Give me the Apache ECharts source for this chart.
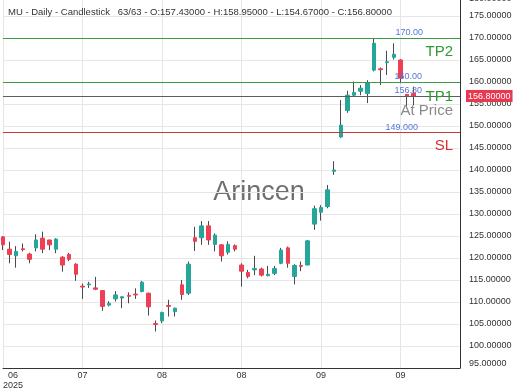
<!DOCTYPE html>
<html><head><meta charset="utf-8">
<script src="https://cdn.jsdelivr.net/npm/echarts@6/dist/echarts.min.js"></script>
<style>html,body{margin:0;padding:0;background:#fff}#c{width:520px;height:390px}</style>
</head><body><div id="c"></div>
<script>
// ---- data ----
const opens  = [124.8,122.0,120.5,122.1,120.9,122.3,124.5,124.1,122.0,120.2,120.8,118.6,113.6,113.9,113.2,112.6,109.3,110.7,110.9,111.5,111.8,112.4,112.0,105.1,105.7,109.2,107.8,113.9,112.0,124.6,124.6,127.3,123.1,123.0,121.3,122.8,118.4,116.7,117.3,117.5,116.0,116.5,118.8,122.3,115.8,118.3,118.4,127.7,130.4,131.7,139.7,147.5,153.5,157.0,157.9,157.4,162.7,163.0,164.4,165.6,165.0,157.2,157.43];
const highs  = [125.0,123.7,122.7,123.3,121.2,125.4,126.0,124.1,124.5,120.4,121.2,118.8,114.2,114.6,115.7,112.7,110.2,112.5,111.2,112.2,113.1,114.8,112.1,105.8,107.8,110.5,108.7,115.0,119.2,127.1,128.4,128.4,125.6,123.1,123.8,123.1,118.8,117.3,120.5,117.8,118.2,118.2,122.3,122.6,118.6,119.2,124.1,131.9,132.0,136.6,142.0,155.9,158.0,160.1,159.3,160.4,169.9,163.3,167.1,168.8,165.2,157.2,158.95];
const lows   = [121.8,118.8,117.8,121.5,118.8,121.5,121.1,121.8,121.1,116.9,119.3,114.8,110.7,113.2,112.7,108.0,109.0,110.1,108.6,109.7,110.7,112.2,106.9,103.3,105.2,106.7,106.7,110.5,111.6,121.6,123.0,123.0,121.5,119.2,120.8,121.5,113.5,115.4,116.1,115.8,115.8,116.1,118.6,117.8,114.0,117.0,118.4,126.4,128.5,131.3,138.9,147.3,153.0,156.7,157.0,155.2,162.4,159.3,161.6,165.1,159.7,154.0,154.67];
const closes = [123.0,120.8,121.5,121.9,119.7,124.1,122.0,123.0,124.3,118.4,119.7,116.3,113.4,114.1,112.9,109.0,109.7,111.6,111.2,111.3,111.6,114.5,108.9,104.9,107.6,109.0,108.6,111.7,118.6,123.8,127.3,124.1,125.2,120.5,123.1,122.0,117.0,115.8,117.6,116.1,116.3,117.6,121.8,118.8,118.3,118.1,123.9,131.2,131.5,135.5,140.0,150.2,157.0,157.6,158.6,159.9,168.8,162.8,164.6,166.3,160.9,156.7,156.80];
const tickLabels = ['06\n2025','07','08','08','09','09'];
const tickEvery = 12;
const slotCount = 70;            // 63 candles + empty space on the right
const levelValues = [170, 160, 156.8, 148.5];
const levelPriceTexts = ['170.00','160.00','156.80','149.000'];
const levelNames = ['TP2','TP1','At Price','SL'];
const lastPriceText = '156.80000';
const titleText = 'MU - Daily - Candlestick   63/63 - O:157.43000 - H:158.95000 - L:154.67000 - C:156.80000';

// ---- build ----
const cats = Array.from({length: slotCount}, (_, i) => String(i));
const wickData = opens.map((o, i) => [o, closes[i], lows[i], highs[i]]);
const bodyData = opens.map((o, i) => [o, closes[i], Math.min(o, closes[i]), Math.max(o, closes[i])]);

const UP = '#26a69a', DOWN = '#ef3f55', WICK = '#4a4a4a';
const GREEN_LINE = '#3d9c40', GREEN_TXT = '#2f9a2f', BLUE = '#5577d6';
const RED_LINE = '#c83a3a', RED_TXT = '#d6302f', GRAY_LINE = '#5e5e5e', GRAY_TXT = '#8a8a8a';
const lineColors = [GREEN_LINE, GREEN_LINE, GRAY_LINE, RED_LINE];
const nameColors = [GREEN_TXT, GREEN_TXT, GRAY_TXT, RED_TXT];
const priceRight = [36, 37, 37, 41];
const nameDist = [6, 7, 7, 5.5];
const CLEAR = 'rgba(0,0,0,0)';

const markData = [];
levelValues.forEach((v, k) => {
  markData.push({yAxis: v, lineStyle: {color: lineColors[k], width: 1, type: 'solid'},
    label: {show: true, position: 'insideEndTop', formatter: levelPriceTexts[k], color: BLUE, fontSize: 9, distance: 1, padding: [0, priceRight[k], 0, 0]}});
  markData.push({yAxis: v, lineStyle: {color: CLEAR, width: 1},
    label: {show: true, position: 'insideEndBottom', formatter: levelNames[k], color: nameColors[k], fontSize: 15, distance: nameDist[k], padding: [0, Math.max(0, 7 - nameDist[k]), 0, 0]}});
});
markData.push({yAxis: levelValues[2], lineStyle: {color: CLEAR, width: 1},
  label: {show: true, position: 'end', formatter: lastPriceText, color: '#fff', backgroundColor: '#e8374e', fontSize: 9, padding: [2, 2, 1, 2], distance: 6}});

const chart = echarts.init(document.getElementById('c'), null, {renderer: 'canvas'});
chart.setOption({
  animation: false,
  backgroundColor: '#fff',
  textStyle: {fontFamily: 'Liberation Sans, Arial, sans-serif'},
  title: {text: titleText, left: 8, top: 7, padding: 0,
    textStyle: {fontSize: 9.5, fontWeight: 'normal', color: '#333'}},
  graphic: [{type: 'text', x: 259, y: 193, z: -10, silent: true,
    style: {text: 'Arincen', fontSize: 27, fill: '#6f6f6f', align: 'center', verticalAlign: 'middle', fontFamily: 'Liberation Sans, Arial, sans-serif'}}],
  grid: {left: 3, right: 60, top: -6, bottom: 22, containLabel: false, outerBoundsMode: 'none'},
  xAxis: {
    type: 'category', data: cats, boundaryGap: false,
    axisLine: {show: true, lineStyle: {color: '#333', width: 1}},
    axisTick: {show: false},
    splitLine: {show: true, interval: (i) => i % tickEvery === 0, lineStyle: {color: '#e6e6e6'}},
    axisLabel: {show: true, interval: (i) => i % tickEvery === 0, fontSize: 9, color: '#333', margin: 3, lineHeight: 10,
      alignMinLabel: 'left',
      formatter: (v, i) => { const t = tickLabels[i / tickEvery] || ''; return i === 0 ? t.replace(/^/, '  ') : t; }}
  },
  yAxis: {
    type: 'value', position: 'right', min: 95, max: 180, interval: 5, scale: true,
    axisLine: {show: true, lineStyle: {color: '#333', width: 1}},
    axisTick: {show: false},
    splitLine: {show: true, lineStyle: {color: '#e6e6e6'}},
    axisLabel: {fontSize: 9, color: '#333', margin: 9, formatter: (v) => v.toFixed(5),
      verticalAlignMinLabel: 'bottom', verticalAlignMaxLabel: 'top'}
  },
  series: [
    {type: 'candlestick', name: 'wick', data: wickData, barWidth: 1, clip: false, silent: true,
      itemStyle: {color: WICK, color0: WICK, borderColor: WICK, borderColor0: WICK, borderWidth: 1}},
    {type: 'candlestick', name: 'body', data: bodyData, barWidth: 4, clip: false, silent: true,
      itemStyle: {color: UP, color0: DOWN, borderColor: UP, borderColor0: DOWN, borderWidth: 1},
      markLine: {silent: true, symbol: ['none', 'none'], animation: false, data: markData}}
  ]
});
</script></body></html>
